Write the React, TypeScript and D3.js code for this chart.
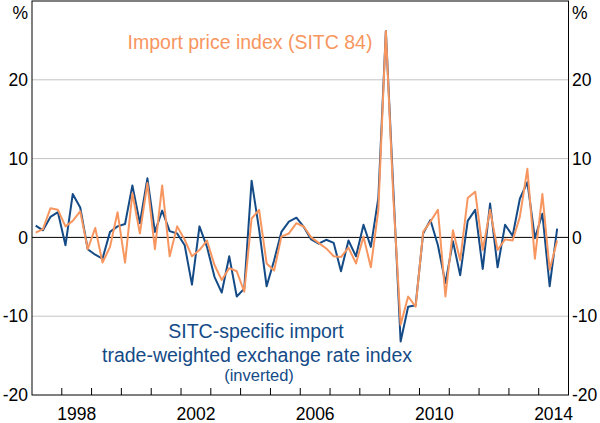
import * as React from 'react';
import * as d3 from 'd3';

// quarterly, 1997 Q1 to 2014 Q3
const startYear = 1997;
const exchangeRate = [
  1.5, 0.9, 2.6, 3.2, -1.0, 5.5, 3.8, -1.5, -2.2, -2.7, 0.7, 1.4, 1.7, 6.6, 1.8, 7.5,
  0.7, 3.4, 0.8, 0.5, -1.0, -6.0, 1.4, -1.2, -5.0, -7.0, -2.4, -7.5, -6.5, 7.2, 1.0, -6.2,
  -2.9, 0.7, 2.0, 2.5, 1.3, -0.25, -0.8, -0.3, -0.7, -4.3, -0.4, -2.4, 1.6, -1.2, 5.0, 26.2,
  6.0, -13.2, -8.8, -8.6, 0.5, 2.2, -1.0, -5.8, -0.5, -4.8, 2.1, 3.5, -4.0, 4.3, -3.8, 1.6,
  0.2, 4.9, 7.0, -0.1, 3.0, -6.2, 1.1,
];
const importPrice = [
  0.6, 1.05, 3.7, 3.5, 1.4, 2.1, 3.3, -1.5, 1.2, -3.2, -1.2, 3.2, -3.2, 5.6, 0.5, 6.9,
  -1.5, 6.6, -2.4, 1.4, -0.3, -2.4, -1.6, -0.4, -3.5, -5.4, -3.9, -4.3, -6.9, 2.4, 3.5, -3.3,
  -4.2, 0.1, 0.5, 1.8, 1.35, 0, -0.7, -1.4, -2.4, -2.5, -1.3, -3.3, 0.1, -3.8, 3.5, 26.2,
  5.0, -11.1, -7.5, -8.8, 0.7, 2.0, 3.5, -7.5, 0.9, -2.9, 5.0, 5.8, -1.6, 3.5, -1.6, -0.25,
  -0.4, 2.6, 8.7, -2.7, 5.5, -4.1, -0.4,
];
const yTicks = [-20, -10, 0, 10, 20];
const yearLabels = [1998, 2002, 2006, 2010, 2014];

const BLUE = '#144b87';
const ORANGE = '#f89660';
const FONT = 'Arial, "Liberation Sans", sans-serif';

const width = 600;
const height = 423;
const left = 32;
const right = 568.5;
const top = 1;
const bottom = 395;

const quarterDate = (i: number) => new Date(startYear, i * 3 + 1, 15);

const App: React.FC = () => {
  const x = d3.scaleTime()
    .domain([new Date(1997, 0, 1), new Date(2015, 0, 1)])
    .range([left, right]);
  const y = d3.scaleLinear().domain([-20, 30]).range([bottom, top]);

  const line = d3.line<number>()
    .x((_, i) => x(quarterDate(i)))
    .y(d => y(d));

  const yearTicks = d3.timeYear.range(new Date(1998, 0, 1), new Date(2015, 0, 1));

  return (
    <svg width={width} height={height} style={{ position: 'absolute', left: 0, top: 0 }} fontFamily={FONT}>
      <rect width={width} height={height} fill="#fff" />

      {/* gridlines */}
      {yTicks.filter(t => t !== 0 && t !== -20).map(t => (
        <line key={t} x1={left} x2={right} y1={y(t)} y2={y(t)} stroke="#c4c4c4" strokeWidth={1} />
      ))}
      <line x1={left} x2={right} y1={y(0)} y2={y(0)} stroke="#000" strokeWidth={1} />

      {/* year ticks */}
      {yearTicks.map(d => (
        <line key={d.getFullYear()} x1={x(d)} x2={x(d)} y1={bottom} y2={bottom - 7} stroke="#000" strokeWidth={1} />
      ))}

      <path d={line(exchangeRate) || ''} fill="none" stroke={BLUE} strokeWidth={2} strokeLinejoin="round" />
      <path d={line(importPrice) || ''} fill="none" stroke={ORANGE} strokeWidth={2} strokeLinejoin="round" />

      <rect x={left} y={top} width={right - left} height={bottom - top} fill="none" stroke="#000" strokeWidth={1} />

      {/* y labels */}
      {yTicks.map(t => (
        <g key={t} fontSize={17.5} fill="#000">
          <text x={28} y={y(t)} dy="0.35em" textAnchor="end">{t}</text>
          <text x={572} y={y(t)} dy="0.35em" textAnchor="start">{t}</text>
        </g>
      ))}
      <text x={28} y={19} fontSize={17.5} textAnchor="end">%</text>
      <text x={572} y={19} fontSize={17.5} textAnchor="start">%</text>

      {/* year labels */}
      {yearLabels.map(yr => (
        <text key={yr} x={(x(new Date(yr, 0, 1)) + x(new Date(yr + 1, 0, 1))) / 2} y={420}
          fontSize={17.5} textAnchor="middle">{yr}</text>
      ))}

      {/* series labels */}
      <text x={250} y={49} fontSize={19.5} fill={ORANGE} textAnchor="middle">Import price index (SITC 84)</text>
      <text x={256} y={338} fontSize={19.5} fill={BLUE} textAnchor="middle">SITC-specific import</text>
      <text x={257} y={362} fontSize={19.5} fill={BLUE} textAnchor="middle">trade-weighted exchange rate index</text>
      <text x={259} y={381} fontSize={16.5} fill={BLUE} textAnchor="middle">(inverted)</text>
    </svg>
  );
};

export default App;
